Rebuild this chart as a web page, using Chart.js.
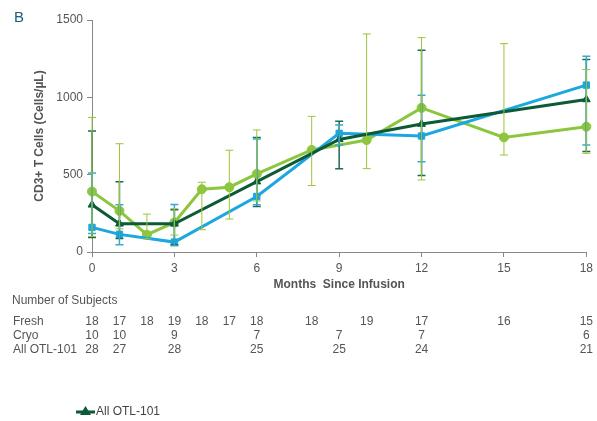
<!DOCTYPE html>
<html>
<head>
<meta charset="utf-8">
<script src="https://cdn.jsdelivr.net/npm/chart.js@4.4.1/dist/chart.umd.min.js"></script>
<style>
  body { margin: 0; background: #fff; }
  #wrap { width: 597px; height: 421px; position: relative; }
</style>
</head>
<body>
<div id="wrap"><canvas id="cd3Chart"></canvas></div>
<script>
// months since infusion, mean and error bar range per group
const freshMonths = [0, 1, 2, 3, 4, 5, 6, 8, 10, 12, 15, 18];
const freshMean = [391, 266, 112, 191, 406, 419, 505, 660, 724, 932, 741, 810];
const freshLow = [100, 150, 85, 110, 144, 213, 330, 430, 539, 466, 627, 638];
const freshHigh = [870, 700, 245, 280, 451, 658, 789, 877, 1410, 1386, 1347, 1180];

const cryoMonths = [0, 1, 3, 6, 9, 12, 18];
const cryoMean = [159, 114, 64, 359, 767, 750, 1079];
const cryoLow = [120, 47, 41, 305, 692, 584, 692];
const cryoHigh = [511, 305, 307, 730, 821, 1014, 1266];

const allMonths = [0, 1, 3, 6, 9, 12, 18];
const allMean = [305, 182, 182, 455, 728, 827, 986];
const allLow = [94, 88, 47, 294, 539, 494, 649];
const allHigh = [782, 455, 273, 741, 845, 1304, 1244];

// number of subjects table
const freshN = [18, 17, 18, 19, 18, 17, 18, 18, 19, 17, 16, 15];
const cryoN = [10, 10, 9, 7, 7, 7, 6];
const allN = [28, 27, 28, 25, 25, 24, 21];

const xTicks = [0, 3, 6, 9, 12, 15, 18];
const yTicks = [0, 500, 1000, 1500];

const LIME = "#8cc63f";
const CYAN = "#1ba7df";
const DARK = "#0d5a36";
const TXT = "#555";

Chart.defaults.font.family = "'Liberation Sans', Arial, sans-serif";
Chart.defaults.color = TXT;

function pts(xs, ys) {
    return xs.map((m, i) => ({ x: m, y: ys[i] }));
}

// error bars drawn through the y scale
const errorBars = {
    id: "errorBars",
    afterDatasetsDraw(chart) {
        const ctx = chart.ctx;
        const y = chart.scales.y;
        chart.data.datasets.forEach((ds, di) => {
            const meta = chart.getDatasetMeta(di);
            ctx.save();
            ctx.strokeStyle = ds.errColor;
            ctx.lineWidth = ds.errWidth;
            meta.data.forEach((p, i) => {
                const yl = y.getPixelForValue(ds.low[i]);
                const yh = y.getPixelForValue(ds.high[i]);
                ctx.beginPath();
                ctx.moveTo(p.x, yl); ctx.lineTo(p.x, yh);
                ctx.moveTo(p.x - 4, yl); ctx.lineTo(p.x + 4, yl);
                ctx.moveTo(p.x - 4, yh); ctx.lineTo(p.x + 4, yh);
                ctx.stroke();
            });
            ctx.restore();
        });
    }
};

// panel letter, subject table and legend
const extras = {
    id: "extras",
    afterDraw(chart) {
        const ctx = chart.ctx;
        const x = chart.scales.x;
        ctx.save();
        ctx.fillStyle = "#1b5c78";
        ctx.font = "15px 'Liberation Sans', Arial, sans-serif";
        ctx.textBaseline = "middle";
        ctx.fillText("B", 14, 18);

        ctx.fillStyle = TXT;
        ctx.font = "12px 'Liberation Sans', Arial, sans-serif";
        ctx.textAlign = "left";
        ctx.fillText("Number of Subjects", 12, 301);
        const rows = [
            ["Fresh", freshMonths, freshN, 322],
            ["Cryo", cryoMonths, cryoN, 336],
            ["All OTL-101", allMonths, allN, 350]
        ];
        rows.forEach(r => {
            ctx.textAlign = "left";
            ctx.fillText(r[0], 13, r[3]);
            ctx.textAlign = "center";
            r[1].forEach((m, i) => ctx.fillText(String(r[2][i]), x.getPixelForValue(m), r[3]));
        });

        // legend entry
        ctx.strokeStyle = DARK;
        ctx.lineWidth = 3;
        ctx.beginPath();
        ctx.moveTo(76, 412); ctx.lineTo(95, 412);
        ctx.stroke();
        ctx.fillStyle = DARK;
        ctx.beginPath();
        ctx.moveTo(85.5, 406); ctx.lineTo(91, 415); ctx.lineTo(80, 415);
        ctx.closePath();
        ctx.fill();
        ctx.fillStyle = "#444";
        ctx.textAlign = "left";
        ctx.font = "12px 'Liberation Sans', Arial, sans-serif";
        ctx.fillText("All OTL-101", 96, 412);
        ctx.restore();
    }
};

const ctx = document.getElementById("cd3Chart").getContext("2d");

new Chart(ctx, {
    type: "line",
    data: {
        datasets: [
            {
                label: "All OTL-101",
                data: pts(allMonths, allMean),
                low: allLow, high: allHigh,
                errColor: "#1f6b55", errWidth: 1.5,
                borderColor: DARK, backgroundColor: DARK,
                borderWidth: 3, pointStyle: "triangle", pointRadius: 4.5, pointBorderWidth: 1,
                clip: false
            },
            {
                label: "Cryo",
                data: pts(cryoMonths, cryoMean),
                low: cryoLow, high: cryoHigh,
                errColor: "#3aa9c8", errWidth: 1.5,
                borderColor: CYAN, backgroundColor: CYAN,
                borderWidth: 3, pointStyle: "rect", pointRadius: 4.5, pointBorderWidth: 1,
                clip: false
            },
            {
                label: "Fresh",
                data: pts(freshMonths, freshMean),
                low: freshLow, high: freshHigh,
                errColor: "#9cc43a", errWidth: 1,
                borderColor: LIME, backgroundColor: LIME,
                borderWidth: 3, pointStyle: "circle", pointRadius: 4.5, pointBorderWidth: 1,
                clip: false
            }
        ]
    },
    options: {
        responsive: true,
        maintainAspectRatio: false,
        animation: false,
        layout: { padding: { left: 0, top: 20, right: 10, bottom: 129 } },
        plugins: { legend: { display: false }, tooltip: { enabled: false } },
        scales: {
            x: {
                type: "linear",
                min: 0, max: 18,
                afterBuildTicks: s => { s.ticks = xTicks.map(v => ({ value: v })); },
                afterFit: s => { s.height = 40; },
                ticks: { padding: 4, font: { size: 12 }, color: TXT },
                grid: { drawOnChartArea: false, tickLength: 5, color: "#888" },
                border: { color: "#888" },
                title: {
                    display: true, text: "Months  Since Infusion",
                    font: { size: 12, weight: "bold" }, color: TXT,
                    padding: { top: 0, bottom: 0 }
                }
            },
            y: {
                min: 0, max: 1500,
                afterBuildTicks: s => { s.ticks = yTicks.map(v => ({ value: v })); },
                afterFit: s => { s.width = 92; },
                ticks: { padding: 4, font: { size: 12 }, color: TXT, callback: v => String(v) },
                grid: { drawOnChartArea: false, tickLength: 5, color: "#888" },
                border: { color: "#888" },
                title: {
                    display: true, text: "CD3+ T Cells (Cells/\u00b5L)",
                    font: { size: 12, weight: "bold" }, color: TXT,
                    padding: { top: 32, bottom: 0 }
                }
            }
        }
    },
    plugins: [errorBars, extras]
});
</script>
</body>
</html>
